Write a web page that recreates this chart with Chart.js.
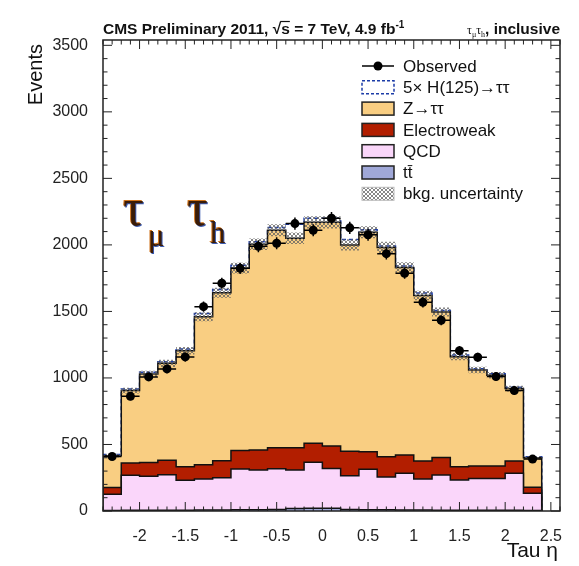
<!DOCTYPE html>
<html>
<head>
<meta charset="utf-8">
<script src="https://cdn.jsdelivr.net/npm/chart.js@4.4.1/dist/chart.umd.min.js"></script>
<style>
  html, body { margin: 0; padding: 0; background: #fff; }
  #wrap { width: 579px; height: 566px; }
</style>
</head>
<body>
<div id="wrap"><canvas id="eta-chart" width="579" height="566"></canvas></div>
<script>
// Tau pseudorapidity, mu + tau_h channel, inclusive selection.
// Bin edges in eta and per-bin event counts.
const ETA_EDGES = [-2.4, -2.2, -2.0, -1.8, -1.6, -1.4, -1.2, -1.0, -0.8, -0.6, -0.4, -0.2, 0.0,
  0.2, 0.4, 0.6, 0.8, 1.0, 1.2, 1.4, 1.6, 1.8, 2.0, 2.2, 2.4];

const OBSERVED = [410, 862, 1008, 1068, 1158, 1536, 1712, 1824, 1990, 2012, 2160, 2110,
  2200, 2128, 2076, 1934, 1787, 1569, 1434, 1205, 1156, 1010, 905, 390];

const TTBAR = [4, 5, 5, 6, 6, 7, 8, 9, 10, 12, 18, 20, 20, 12, 10, 9, 8, 7, 6, 6, 5, 5, 5, 4];
const QCD = [121, 263, 256, 267, 225, 234, 242, 306, 298, 306, 290, 346,
  300, 253, 303, 246, 275, 233, 264, 227, 240, 240, 278, 129];
const EWK = [51, 92, 103, 108, 102, 106, 128, 140, 150, 158, 167, 144,
  168, 185, 132, 153, 137, 135, 133, 100, 93, 93, 92, 45];
const ZTT = [239, 545, 666, 729, 872, 1113, 1262, 1370, 1547, 1634, 1575, 1660,
  1682, 1550, 1650, 1572, 1410, 1245, 1092, 827, 722, 682, 545, 222];
const HIGGS_5X = [10, 12, 12, 12, 12, 25, 25, 22, 18, 20, 105, 30,
  30, 40, 18, 12, 12, 18, 12, 12, 10, 12, 10, 8];
const BKG_UNC = [12, 22, 25, 27, 28, 33, 37, 40, 43, 45, 44, 46,
  46, 43, 45, 43, 40, 36, 34, 27, 25, 24, 22, 12];

const X_TICKS = [-2, -1.5, -1, -0.5, 0, 0.5, 1, 1.5, 2, 2.5];
const Y_TICKS = [0, 500, 1000, 1500, 2000, 2500, 3000, 3500];
const X_RANGE = [-2.4, 2.6];
const Y_RANGE = [0, 3540];

const COLORS = {
  ztt: "#f9ce82",
  ewk: "#b21e00",
  qcd: "#fad6fa",
  ttbar: "#a0a8d8",
  higgs: "#1c3ca8",
};
const SANS = "'Liberation Sans', Arial, Helvetica, sans-serif";
const SERIF = "'Liberation Serif', 'DejaVu Serif', serif";

function cumulate(...parts) {
  return parts[0].map((_, i) => parts.reduce((s, p) => s + p[i], 0));
}

// histogram outline as a stepped line, closed down to zero at both ends
function stepPoints(values, closed = true) {
  const last = ETA_EDGES[ETA_EDGES.length - 1];
  const pts = closed ? [{ x: ETA_EDGES[0], y: 0 }] : [];
  values.forEach((v, i) => pts.push({ x: ETA_EDGES[i], y: v }));
  pts.push({ x: last, y: values[values.length - 1] });
  if (closed) pts.push({ x: last, y: 0 });
  return pts;
}

function hatchPattern() {
  const c = document.createElement("canvas");
  c.width = 4;
  c.height = 4;
  const g = c.getContext("2d");
  g.fillStyle = "rgba(95,95,95,0.75)";
  [[0, 0], [1, 1], [2, 2], [3, 3], [3, 0], [2, 1], [1, 2], [0, 3]].forEach(([x, y]) => g.fillRect(x, y, 1, 1));
  return g.createPattern(c, "repeat");
}

const sumTT = TTBAR;
const sumQCD = cumulate(TTBAR, QCD);
const sumEWK = cumulate(TTBAR, QCD, EWK);
const sumZTT = cumulate(TTBAR, QCD, EWK, ZTT);
const sumHiggs = cumulate(TTBAR, QCD, EWK, ZTT, HIGGS_5X);
const uncHi = sumZTT.map((v, i) => v + BKG_UNC[i]);
const uncLo = sumZTT.map((v, i) => v - BKG_UNC[i]);
const hatch = hatchPattern();

function histDataset(values, fillColor, extra = {}) {
  return Object.assign({
    data: stepPoints(values),
    stepped: "before",
    borderColor: "#111",
    borderWidth: 1.5,
    backgroundColor: fillColor,
    fill: "origin",
    pointRadius: 0,
    tension: 0,
  }, extra);
}

// dataset 0 ends up on top
const datasets = [
  {
    data: OBSERVED.map((n, i) => ({ x: (ETA_EDGES[i] + ETA_EDGES[i + 1]) / 2, y: n })),
    showLine: false,
    pointRadius: 4.5,
    pointBackgroundColor: "#000",
    pointBorderColor: "#000",
    pointBorderWidth: 0,
  },
  {
    data: stepPoints(uncHi, false),
    stepped: "before",
    borderWidth: 0,
    pointRadius: 0,
    fill: "+1",
    backgroundColor: hatch,
  },
  {
    data: stepPoints(uncLo, false),
    stepped: "before",
    borderWidth: 0,
    pointRadius: 0,
    fill: false,
  },
  histDataset(sumTT, COLORS.ttbar),
  histDataset(sumQCD, COLORS.qcd),
  histDataset(sumEWK, COLORS.ewk),
  histDataset(sumZTT, COLORS.ztt),
  histDataset(sumHiggs, "#fff", { borderColor: COLORS.higgs, borderDash: [4, 3] }),
];

const errorBars = {
  id: "errorBars",
  afterDatasetsDraw(chart) {
    const { ctx, scales: { x, y } } = chart;
    ctx.save();
    ctx.strokeStyle = "#000";
    ctx.lineWidth = 1.5;
    OBSERVED.forEach((n, i) => {
      const lo = ETA_EDGES[i];
      const hi = ETA_EDGES[i + 1];
      const err = Math.sqrt(n);
      const px = x.getPixelForValue((lo + hi) / 2);
      const py = y.getPixelForValue(n);
      ctx.beginPath();
      ctx.moveTo(x.getPixelForValue(lo), py);
      ctx.lineTo(x.getPixelForValue(hi), py);
      ctx.moveTo(px, y.getPixelForValue(n - err));
      ctx.lineTo(px, y.getPixelForValue(n + err));
      ctx.stroke();
    });
    ctx.restore();
  },
};

// frame with inward ticks on all four sides
const frameTicks = {
  id: "frameTicks",
  afterDraw(chart) {
    const { ctx, chartArea: a, scales: { x, y } } = chart;
    ctx.save();
    ctx.strokeStyle = "#222";
    ctx.lineWidth = 1.5;
    ctx.strokeRect(a.left, a.top, a.right - a.left, a.bottom - a.top);
    ctx.lineWidth = 1;
    ctx.beginPath();
    for (let k = 0; k <= 50; k++) {
      const v = Math.round((X_RANGE[0] + k * 0.1) * 10) / 10;
      if (v < X_RANGE[0] || v > X_RANGE[1]) continue;
      const len = X_TICKS.includes(v) ? 9 : 4.5;
      const px = x.getPixelForValue(v);
      ctx.moveTo(px, a.bottom);
      ctx.lineTo(px, a.bottom - len);
      ctx.moveTo(px, a.top);
      ctx.lineTo(px, a.top + len);
    }
    for (let v = 0; v <= Y_RANGE[1]; v += 100) {
      const len = Y_TICKS.includes(v) ? 9 : 4.5;
      const py = y.getPixelForValue(v);
      ctx.moveTo(a.left, py);
      ctx.lineTo(a.left + len, py);
      ctx.moveTo(a.right, py);
      ctx.lineTo(a.right - len, py);
    }
    ctx.stroke();
    ctx.restore();
  },
};

function drawPieces(ctx, x, baseline, pieces) {
  pieces.forEach((p) => {
    ctx.font = p.font;
    ctx.fillText(p.text, x, baseline + (p.dy || 0));
    const w = ctx.measureText(p.text).width;
    if (p.overline) {
      ctx.beginPath();
      ctx.moveTo(x - 1, baseline - 12.5);
      ctx.lineTo(x + w, baseline - 12.5);
      ctx.lineWidth = 1.2;
      ctx.stroke();
    }
    x += w;
  });
  return x;
}

const LEGEND = [
  { label: "Observed", kind: "marker" },
  { label: "5× H(125)→ττ", kind: "dashed" },
  { label: "Z→ττ", fill: COLORS.ztt },
  { label: "Electroweak", fill: COLORS.ewk },
  { label: "QCD", fill: COLORS.qcd },
  { label: "tt̄", fill: COLORS.ttbar },
  { label: "bkg. uncertainty", kind: "hatch" },
];

const annotations = {
  id: "annotations",
  afterDraw(chart) {
    const { ctx } = chart;
    ctx.save();
    ctx.fillStyle = "#111";
    ctx.strokeStyle = "#111";
    ctx.textBaseline = "alphabetic";

    // header
    const bold = `bold 15.5px ${SANS}`;
    drawPieces(ctx, 103, 34, [
      { text: "CMS Preliminary 2011, √", font: bold },
      { text: "s", font: bold, overline: true },
      { text: " = 7 TeV, 4.9 fb", font: bold },
      { text: "-1", font: `bold 10px ${SANS}`, dy: -6 },
    ]);
    ctx.font = bold;
    const incl = ", inclusive";
    const wIncl = ctx.measureText(incl).width;
    ctx.font = `12px ${SERIF}`;
    const wTau = ctx.measureText("τ").width;
    ctx.font = `8px ${SERIF}`;
    const wMu = ctx.measureText("μ").width;
    const wH = ctx.measureText("h").width;
    const start = 560 - wIncl - 2 * wTau - wMu - wH;
    drawPieces(ctx, start, 34, [
      { text: "τ", font: `12px ${SERIF}` },
      { text: "μ", font: `8px ${SERIF}`, dy: 3 },
      { text: "τ", font: `12px ${SERIF}` },
      { text: "h", font: `8px ${SERIF}`, dy: 3 },
      { text: incl, font: bold },
    ]);

    // axis titles
    ctx.font = `21px ${SANS}`;
    ctx.textAlign = "right";
    ctx.fillText("Tau η", 558, 557);
    ctx.save();
    ctx.translate(42, 44);
    ctx.rotate(-Math.PI / 2);
    ctx.font = `20px ${SANS}`;
    ctx.fillText("Events", 0, 0);
    ctx.restore();
    ctx.textAlign = "left";

    // channel label
    const channel = [
      { text: "τ", size: 52, x: 123, y: 225 },
      { text: "μ", size: 31, x: 148, y: 246 },
      { text: "τ", size: 52, x: 187, y: 225 },
      { text: "h", size: 31, x: 210, y: 243 },
    ];
    [["#d0741c", -1, -1], ["#3a5ab0", 1, 1], ["#3a1c08", 0, 0]].forEach(([col, dx, dy]) => {
      ctx.fillStyle = col;
      channel.forEach((c) => {
        ctx.font = `${c.size}px ${SERIF}`;
        ctx.fillText(c.text, c.x + dx, c.y + dy);
      });
    });

    // legend
    ctx.font = `17px ${SANS}`;
    ctx.textBaseline = "middle";
    LEGEND.forEach((item, i) => {
      const cy = 66 + i * 21.3;
      const bx = 362;
      const bw = 32;
      const bh = 13;
      if (item.kind === "marker") {
        ctx.strokeStyle = "#000";
        ctx.lineWidth = 1.5;
        ctx.beginPath();
        ctx.moveTo(bx, cy);
        ctx.lineTo(bx + bw, cy);
        ctx.stroke();
        ctx.fillStyle = "#000";
        ctx.beginPath();
        ctx.arc(bx + bw / 2, cy, 4.5, 0, Math.PI * 2);
        ctx.fill();
      } else if (item.kind === "dashed") {
        ctx.fillStyle = "#fff";
        ctx.fillRect(bx, cy - bh / 2, bw, bh);
        ctx.strokeStyle = COLORS.higgs;
        ctx.lineWidth = 1.5;
        ctx.setLineDash([3, 2]);
        ctx.strokeRect(bx, cy - bh / 2, bw, bh);
        ctx.setLineDash([]);
      } else if (item.kind === "hatch") {
        ctx.fillStyle = hatch;
        ctx.fillRect(bx, cy - bh / 2, bw, bh);
        ctx.strokeStyle = "#bbb";
        ctx.lineWidth = 1;
        ctx.strokeRect(bx, cy - bh / 2, bw, bh);
      } else {
        ctx.fillStyle = item.fill;
        ctx.fillRect(bx, cy - bh / 2, bw, bh);
        ctx.strokeStyle = "#222";
        ctx.lineWidth = 1.5;
        ctx.strokeRect(bx, cy - bh / 2, bw, bh);
      }
      ctx.fillStyle = "#111";
      ctx.fillText(item.label, 403, cy + 1);
    });
    ctx.restore();
  },
};

const tickFont = { family: SANS, size: 16 };

new Chart(document.getElementById("eta-chart"), {
  type: "line",
  data: { datasets },
  options: {
    responsive: false,
    animation: false,
    events: [],
    layout: { padding: { top: 40, right: 19, left: 0, bottom: 0 } },
    plugins: { legend: { display: false }, tooltip: { enabled: false } },
    scales: {
      x: {
        type: "linear",
        min: X_RANGE[0],
        max: X_RANGE[1],
        grid: { display: false },
        border: { display: false },
        ticks: { font: tickFont, color: "#222", padding: 8, maxRotation: 0, autoSkip: false, callback: (v) => String(v) },
        afterBuildTicks(scale) {
          scale.ticks = X_TICKS.map((v) => ({ value: v }));
        },
        afterFit(scale) {
          scale.height = 55;
        },
      },
      y: {
        type: "linear",
        min: Y_RANGE[0],
        max: Y_RANGE[1],
        grid: { display: false },
        border: { display: false },
        ticks: { font: tickFont, color: "#222", padding: 7, callback: (v) => String(v) },
        afterBuildTicks(scale) {
          scale.ticks = Y_TICKS.map((v) => ({ value: v }));
        },
        afterFit(scale) {
          scale.width = 103;
        },
      },
    },
  },
  plugins: [errorBars, frameTicks, annotations],
});
</script>
</body>
</html>
